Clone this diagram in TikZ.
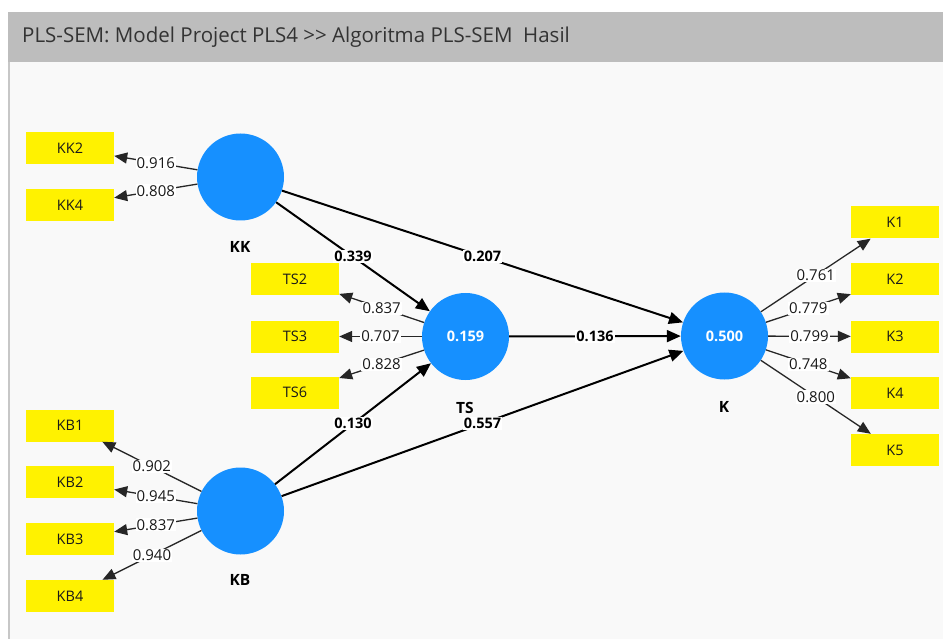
\documentclass[tikz,border=0pt]{standalone}
\usepackage{fontspec}
\setmainfont{Open Sans}
\usetikzlibrary{arrows.meta}
\definecolor{latblue}{RGB}{22,144,255}
\definecolor{bodybg}{RGB}{249,249,249}
\definecolor{headbg}{RGB}{189,189,189}
\definecolor{headtx}{RGB}{51,51,51}
\begin{document}
\begin{tikzpicture}[x=1pt,y=-1pt,
  ind/.style={fill=yellow, minimum width=88pt, minimum height=32pt, inner sep=0pt, font=\fontsize{14.5}{16}\selectfont, text=black!90},
  lat/.style={circle, fill=latblue, minimum size=87pt, inner sep=0pt, text=white, font=\fontsize{14.5}{16}\selectfont\bfseries},
  latname/.style={font=\fontsize{15.5}{17}\selectfont\bfseries, inner sep=0pt},
  pathar/.style={line width=2pt, draw=black, -{Triangle[length=14pt,width=12pt]}},
  loadar/.style={line width=1.3pt, draw=black!85, -{Triangle[length=13pt,width=11pt]}},
  plab/.style={fill=white, inner sep=1pt, font=\fontsize{14.5}{16}\selectfont\bfseries, text=black},
  llab/.style={fill=white, inner sep=1pt, font=\fontsize{15}{17}\selectfont, text=black!90}
]
\useasboundingbox (0,0) rectangle (943,639);
\fill[white] (0,0) rectangle (943,639);
\fill[bodybg] (8,62) rectangle (943,639);
\fill[headbg] (8,12) rectangle (943,62);
\draw[line width=1.5pt, black!22] (8.75,62) -- (8.75,639);
\node[anchor=west, text=headtx, font=\fontsize{20.5}{24}\selectfont, inner sep=0pt] (title) at (22,37) {PLS-SEM: Model Project PLS4 >{}> Algoritma PLS-SEM\ \ Hasil};

% latent variables
\node[lat] (KK) at (240.5,177) {};
\node[lat] (TS) at (465.5,336.5) {0.159};
\node[lat] (KB) at (240.5,511) {};
\node[lat] (K) at (724.5,336) {0.500};
\node[latname] (KKn) at (240,247) {KK};
\node[latname] (TSn) at (465,408) {TS};
\node[latname] (Kn) at (724,407) {K};
\node[latname] (KBn) at (240,580) {KB};

% indicators
\node[ind] (KK2) at (70,148.5) {KK2};
\node[ind] (KK4) at (70,205) {KK4};
\node[ind] (TS2) at (295,279) {TS2};
\node[ind] (TS3) at (295,336.5) {TS3};
\node[ind] (TS6) at (295,392.5) {TS6};
\node[ind] (KB1) at (70,425.5) {KB1};
\node[ind] (KB2) at (70,482) {KB2};
\node[ind] (KB3) at (70,539) {KB3};
\node[ind] (KB4) at (70,596) {KB4};
\node[ind] (K1) at (895,222.5) {K1};
\node[ind] (K2) at (895,279.5) {K2};
\node[ind] (K3) at (895,336.5) {K3};
\node[ind] (K4) at (895,393) {K4};
\node[ind] (K5) at (895,450) {K5};

% loadings
\draw[loadar] (KK) -- node[llab]{0.916} (KK2);
\draw[loadar] (KK) -- node[llab]{0.808} (KK4);
\draw[loadar] (TS) -- node[llab]{0.837} (TS2);
\draw[loadar] (TS) -- node[llab]{0.707} (TS3);
\draw[loadar] (TS) -- node[llab]{0.828} (TS6);
\draw[loadar] (KB) -- node[llab]{0.902} (KB1);
\draw[loadar] (KB) -- node[llab]{0.945} (KB2);
\draw[loadar] (KB) -- node[llab]{0.837} (KB3);
\draw[loadar] (KB) -- node[llab]{0.940} (KB4);
\draw[loadar] (K) -- node[llab]{0.761} (K1);
\draw[loadar] (K) -- node[llab]{0.779} (K2);
\draw[loadar] (K) -- node[llab]{0.799} (K3);
\draw[loadar] (K) -- node[llab]{0.748} (K4);
\draw[loadar] (K) -- node[llab]{0.800} (K5);

% structural paths
\draw[pathar] (KK) -- node[plab]{0.339} (TS);
\draw[pathar] (KK) -- node[plab]{0.207} (K);
\draw[pathar] (TS) -- node[plab]{0.136} (K);
\draw[pathar] (KB) -- node[plab]{0.130} (TS);
\draw[pathar] (KB) -- node[plab]{0.557} (K);
\end{tikzpicture}
\end{document}
